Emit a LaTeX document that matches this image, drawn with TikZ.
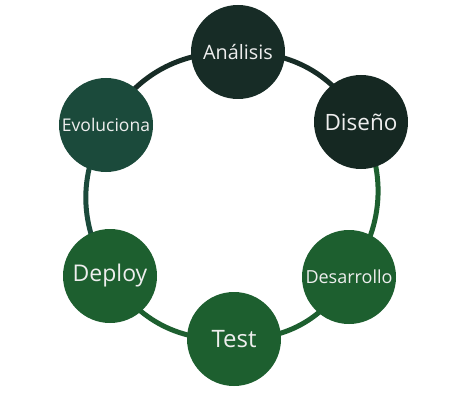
\documentclass[tikz,border=0pt]{standalone}
\usepackage{fontspec}
\setmainfont{Open Sans}
\usepackage{tikz}
\usetikzlibrary{backgrounds}
\definecolor{nightgreen}{HTML}{172C26}
\definecolor{tealgreen}{HTML}{1B4A3B}
\definecolor{leafgreen}{HTML}{1D5F2F}
\definecolor{softwhite}{HTML}{EEEEEE}
\newcommand{\phasesize}{94pt}
\tikzset{
	phase/.style={circle, fill=#1, minimum size=\phasesize, inner sep=0pt, text=softwhite},
	ring/.style={line width=5pt, draw=#1}
}

\begin{document}
\begin{tikzpicture}[x=1pt,y=1pt]
	\useasboundingbox (0,0) rectangle (476,405);
	\node[phase=nightgreen, font=\fontsize{19.8}{22}\selectfont] (analisis) at (238,353) {Análisis};
	\node[phase=nightgreen!90!black, font=\fontsize{22.5}{25}\selectfont] (diseno) at (361,283) {Diseño};
	\node[phase=leafgreen, font=\fontsize{18}{20}\selectfont] (desarrollo) at (349,128) {Desarrollo};
	\node[phase=leafgreen, font=\fontsize{24}{27}\selectfont] (test) at (234,66) {Test};
	\node[phase=leafgreen, font=\fontsize{23}{26}\selectfont] (deploy) at (110,129) {Deploy};
	\node[phase=tealgreen, font=\fontsize{17.5}{20}\selectfont] (evoluciona) at (106,280) {Evoluciona};

	\begin{scope}[on background layer]
	\draw[ring=nightgreen] (analisis.center) to[bend left=30] (diseno.center);
	\draw[ring=leafgreen] (diseno.center) to[bend left=30] (desarrollo.center);
	\draw[ring=leafgreen] (desarrollo.center) to[bend left=30] (test.center);
	\draw[ring=leafgreen] (test.center) to[bend left=30] (deploy.center);
	\draw[ring=tealgreen] (deploy.center) to[bend left=30] (evoluciona.center);
	\draw[ring=nightgreen] (evoluciona.center) to[bend left=30] (analisis.center);
	\end{scope}
\end{tikzpicture}
\end{document}
